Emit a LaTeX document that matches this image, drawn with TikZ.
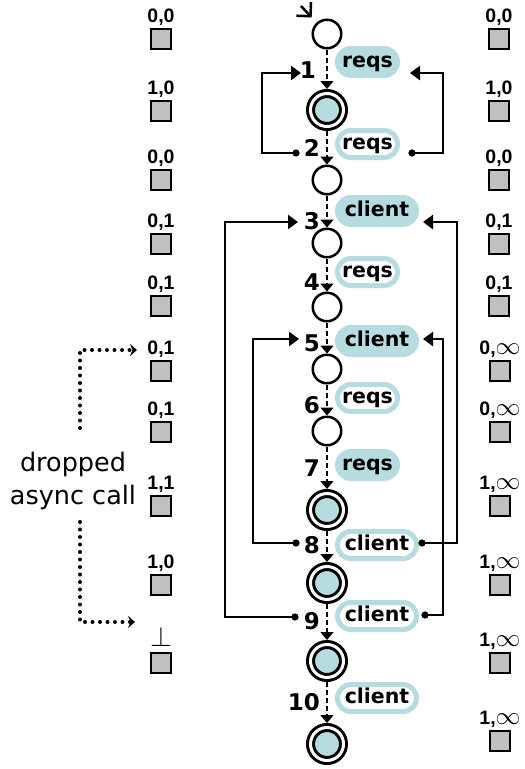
\documentclass[tikz,border=0pt]{standalone}
\usepackage{fontspec}
\setmainfont{DejaVu Sans}
\newfontfamily\pairfont{Liberation Sans}
\usetikzlibrary{arrows.meta}
\definecolor{stateblue}{HTML}{B7DCE0}
\definecolor{boxgray}{HTML}{C0C0C0}

% one gray box with its pair label above it
\newcommand{\trackbox}[4]{%
  \node[trackbox] (#1q) at (#2,#3) {};
  \node[pairlabel] (#1p) at (#2,#3-17) {#4};}
\newcommand{\inftyglyph}{\scalebox{1.2}{$\infty$}}
\newcommand{\bottomglyph}{\scalebox{1.35}{$\perp$}}

\begin{document}
\begin{tikzpicture}[x=1pt,y=-1pt,
  plain/.style={circle,draw,line width=2.5pt,fill=white,minimum size=28.5pt,inner sep=0pt},
  accept/.style={circle,draw,fill=stateblue,line width=3pt,double=white,double distance=3pt,
                 minimum size=33pt,inner sep=0pt,outer sep=4.5pt},
  trans/.style={line width=1.5pt,dash pattern=on 5pt off 3pt,-{Triangle[length=8pt,width=13pt]}},
  initarrow/.style={line width=2.5pt,-{Straight Barb[length=10pt,width=20pt]}},
  backloop/.style={line width=2.8pt,{Circle[length=7pt]}-{Triangle[length=10pt,width=14pt]}},
  bubble/.style={rectangle,rounded corners=13.5pt,line width=5pt,draw=stateblue,
                 minimum height=27pt,inner sep=0pt,text height=15pt,text depth=4pt,
                 anchor=west,font=\bfseries\fontsize{20.5}{24}\selectfont},
  reqsb/.style={bubble,minimum width=60pt},
  clientb/.style={bubble,minimum width=79pt},
  full/.style={fill=stateblue},
  hollow/.style={fill=white},
  steplabel/.style={font=\bfseries\fontsize{23}{25}\selectfont,inner sep=0pt,anchor=base east},
  pairlabel/.style={font=\pairfont\bfseries\fontsize{19.5}{21}\selectfont,inner sep=0pt,anchor=base},
  trackbox/.style={rectangle,draw,line width=2.5pt,fill=boxgray,minimum size=20pt,inner sep=0pt},
  dropline/.style={line width=4pt,line cap=round,dash pattern=on 0pt off 7.5pt,
                   -{Stealth[length=7pt,width=12pt,inset=2.5pt]}}]
\useasboundingbox (0,0) rectangle (525,769);

% states of the run
\node[plain]  (s0)  at (327,34)  {};
\node[accept] (s1)  at (327,110) {};
\node[plain]  (s2)  at (327,180) {};
\node[plain]  (s3)  at (327,243) {};
\node[plain]  (s4)  at (327,307) {};
\node[plain]  (s5)  at (327,369) {};
\node[plain]  (s6)  at (327,431) {};
\node[accept] (s7)  at (327,510) {};
\node[accept] (s8)  at (327,583) {};
\node[accept] (s9)  at (327,661) {};
\node[accept] (s10) at (327,744) {};

% initial arrow
\coordinate (init) at (301,6);
\draw[initarrow,shorten >=7pt] (init) -- (s0);

% steps
\foreach \a/\b in {s0/s1,s1/s2,s2/s3,s3/s4,s4/s5,s5/s6,s6/s7,s7/s8,s8/s9,s9/s10}
  \draw[trans] (\a) -- (\b);

% step numbers
\node[steplabel] (d1)  at (316,78)  {1};
\node[steplabel] (d2)  at (320,156) {2};
\node[steplabel] (d3)  at (320,229) {3};
\node[steplabel] (d4)  at (320,290) {4};
\node[steplabel] (d5)  at (320,351) {5};
\node[steplabel] (d6)  at (320,413) {6};
\node[steplabel] (d7)  at (320,476) {7};
\node[steplabel] (d8)  at (320,553) {8};
\node[steplabel] (d9)  at (320,629) {9};
\node[steplabel] (d10) at (320,710) {10};

% event bubbles
\node[reqsb,full]     (b1)  at (335,62)  {reqs};
\node[reqsb,hollow]   (b2)  at (335,144) {reqs};
\node[clientb,full]   (b3)  at (335,211) {client};
\node[reqsb,hollow]   (b4)  at (335,272) {reqs};
\node[clientb,full]   (b5)  at (335,341) {client};
\node[reqsb,hollow]   (b6)  at (335,398) {reqs};
\node[reqsb,full]     (b7)  at (335,465) {reqs};
\node[clientb,hollow] (b8)  at (335,545) {client};
\node[clientb,hollow] (b9)  at (335,616) {client};
\node[clientb,hollow] (b10) at (335,698) {client};

% back edges, left side
\coordinate (l1src) at (299.5,153); \coordinate (l1tip) at (301,73);
\coordinate (l2src) at (298.5,617); \coordinate (l2tip) at (298,222);
\coordinate (l3src) at (299.5,543); \coordinate (l3tip) at (299,339);
\draw[backloop] (l1src) -- ++(-37.5,0) |- (l1tip);
\draw[backloop] (l2src) -- ++(-73.5,0) |- (l2tip);
\draw[backloop] (l3src) -- ++(-46.5,0) |- (l3tip);

% back edges, right side
\coordinate (r1src) at (408.5,153); \coordinate (r1tip) at (410,73);
\coordinate (r2src) at (418.5,543); \coordinate (r2tip) at (423,222);
\coordinate (r3src) at (421.5,615); \coordinate (r3tip) at (423,339);
\draw[backloop] (r1src) -- ++(34.5,0) |- (r1tip);
\draw[backloop] (r2src) -- ++(38.5,0) |- (r2tip);
\draw[backloop] (r3src) -- ++(21.5,0) |- (r3tip);

% left track
\trackbox{l1}{161}{39}{0,0}
\trackbox{l2}{161}{111}{1,0}
\trackbox{l3}{161}{180}{0,0}
\trackbox{l4}{161}{244}{0,1}
\trackbox{l5}{161}{306}{0,1}
\trackbox{l6}{161}{371}{0,1}
\trackbox{l7}{161}{432}{0,1}
\trackbox{l8}{161}{506}{1,1}
\trackbox{l9}{161}{585}{1,0}
\trackbox{l10}{161}{663}{\bottomglyph}

% right track
\trackbox{r1}{499}{39}{0,0}
\trackbox{r2}{499}{111}{1,0}
\trackbox{r3}{499}{180}{0,0}
\trackbox{r4}{499}{244}{0,1}
\trackbox{r5}{499}{306}{0,1}
\trackbox{r6}{500}{371}{0,\inftyglyph}
\trackbox{r7}{500}{432}{0,\inftyglyph}
\trackbox{r8}{500}{506}{1,\inftyglyph}
\trackbox{r9}{500}{585}{1,\inftyglyph}
\trackbox{r10}{500}{663}{1,\inftyglyph}
\trackbox{r11}{500}{741}{1,\inftyglyph}

% dropped call note
\node[align=center,font=\fontsize{25.5}{33}\selectfont,inner sep=0pt] (drop) at (73,481)
  {dropped\\async call};
\coordinate (dropA) at (80,428); \coordinate (tipA) at (137,350);
\coordinate (dropB) at (80,522); \coordinate (tipB) at (135,622);
\draw[dropline] (dropA) |- (tipA);
\draw[dropline] (dropB) |- (tipB);
\end{tikzpicture}
\end{document}
